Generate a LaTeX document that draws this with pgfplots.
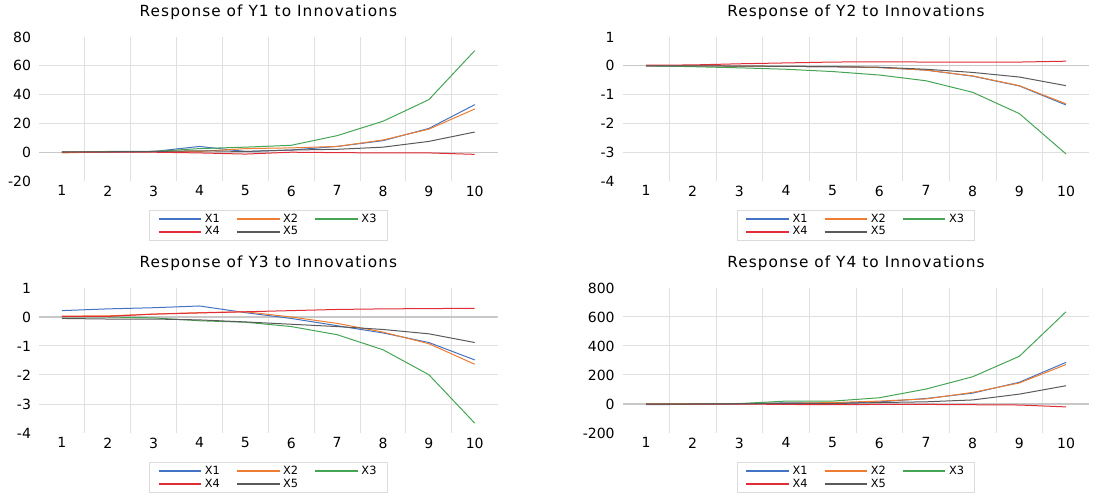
\documentclass[border=0pt]{standalone}
\usepackage{fontspec}
\setmainfont{DejaVu Sans}
\newfontfamily\titlefont[LetterSpace=7]{DejaVu Sans}
\usepackage{pgfplots}
\pgfplotsset{compat=1.18}
\definecolor{cX1}{RGB}{68,114,196}
\definecolor{cX2}{RGB}{237,125,49}
\definecolor{cX3}{RGB}{70,165,85}
\definecolor{cX4}{RGB}{225,45,55}
\definecolor{cX5}{RGB}{90,90,90}
\definecolor{gridc}{RGB}{224,224,224}
\definecolor{zeroc}{RGB}{200,200,200}
\definecolor{legc}{RGB}{220,220,220}
\pgfplotsset{irf/.style={
  scale only axis,
  xmin=0.5, xmax=10.5,
  xtick={1,...,10},
  minor xtick={1.5,2.5,...,9.5},
  xminorgrids, ymajorgrids,
  major tick length=0pt, minor tick length=0pt,
  axis line style={draw=none},
  grid style={gridc, line width=0.75pt},
  minor grid style={gridc, line width=0.75pt},
  extra y tick style={grid=none},
  tick label style={font=\fontsize{10.5}{12}\selectfont},
  yticklabel style={xshift=-2.5pt},
  /pgf/number format/assume math mode=true,
  title style={font=\titlefont\fontsize{11.5}{13}\selectfont, at={(0.5,1)}, anchor=center, yshift=12.5pt},
  legend style={at={(0.5,-0.2)}, anchor=north, draw=legc, line width=0.75pt,
    font=\fontsize{8.5}{10}\selectfont, legend columns=3,
    nodes={inner ysep=0.8pt},
    /tikz/every even column/.append style={column sep=10pt},
    inner xsep=6pt, inner ysep=2pt},
  legend cell align=left,
  legend image code/.code={\draw[#1, line width=1.5pt] (0pt,0pt) -- (32pt,0pt);},
  every axis plot/.append style={line width=0.75pt, mark=none},
}}
\begin{document}
\begin{tikzpicture}
\path (0,0) rectangle (832.5pt,372pt);
% Panel 1
\begin{axis}[irf, at={(29.25pt,236.25pt)}, anchor=south west, width=344pt, height=108pt,
  ymin=-20, ymax=80, ytick={0,20,40,60}, extra y ticks={-20,80},
  title={Response of Y1 to Innovations}]
\draw[zeroc, line width=1pt] (axis cs:0.5,0) -- (axis cs:10.5,0);
\addplot[cX1] coordinates {(1,0)(2,0)(3,0.5)(4,4)(5,0.5)(6,1.5)(7,4)(8,8)(9,16.5)(10,33)};
\addplot[cX2] coordinates {(1,-0.5)(2,0.3)(3,0.5)(4,0.5)(5,2.5)(6,3)(7,4)(8,8.5)(9,16)(10,30)};
\addplot[cX3] coordinates {(1,0)(2,0.5)(3,0.5)(4,2.5)(5,3.5)(6,4.8)(7,11.5)(8,21.5)(9,36.5)(10,70.5)};
\addplot[cX4] coordinates {(1,0)(2,0)(3,0)(4,-0.5)(5,-1.3)(6,0)(7,-0.3)(8,-0.5)(9,-0.5)(10,-1.5)};
\addplot[cX5] coordinates {(1,0.3)(2,0.3)(3,0.5)(4,1)(5,0.5)(6,1.5)(7,2)(8,3.5)(9,7.5)(10,14)};
\legend{X1,X2,X3,X4,X5}
\end{axis}
% Panel 2
\begin{axis}[irf, at={(467pt,236.25pt)}, anchor=south west, width=350pt, height=108pt,
  ymin=-4, ymax=1, ytick={-3,-2,-1,0}, extra y ticks={-4,1},
  title={Response of Y2 to Innovations}]
\draw[zeroc, line width=1pt] (axis cs:0.5,0) -- (axis cs:10.5,0);
\addplot[cX1] coordinates {(1,0)(2,0)(3,-0.01)(4,-0.02)(5,-0.03)(6,-0.06)(7,-0.15)(8,-0.36)(9,-0.7)(10,-1.36)};
\addplot[cX2] coordinates {(1,0)(2,0)(3,-0.01)(4,-0.02)(5,-0.03)(6,-0.06)(7,-0.15)(8,-0.35)(9,-0.69)(10,-1.32)};
\addplot[cX3] coordinates {(1,0)(2,-0.03)(3,-0.07)(4,-0.12)(5,-0.2)(6,-0.32)(7,-0.52)(8,-0.92)(9,-1.66)(10,-3.06)};
\addplot[cX4] coordinates {(1,0.02)(2,0.03)(3,0.07)(4,0.1)(5,0.13)(6,0.14)(7,0.13)(8,0.13)(9,0.13)(10,0.16)};
\addplot[cX5] coordinates {(1,0)(2,0)(3,-0.01)(4,-0.02)(5,-0.03)(6,-0.05)(7,-0.12)(8,-0.23)(9,-0.39)(10,-0.69)};
\legend{X1,X2,X3,X4,X5}
\end{axis}
% Panel 3
\begin{axis}[irf, at={(29.25pt,47.25pt)}, anchor=south west, width=344pt, height=108.75pt,
  ymin=-4, ymax=1, ytick={-3,-2,-1,0}, extra y ticks={-4,1},
  title={Response of Y3 to Innovations}]
\draw[zeroc, line width=1pt] (axis cs:0.5,0) -- (axis cs:10.5,0);
\addplot[cX1] coordinates {(1,0.22)(2,0.28)(3,0.32)(4,0.38)(5,0.15)(6,-0.05)(7,-0.3)(8,-0.55)(9,-0.88)(10,-1.48)};
\addplot[cX2] coordinates {(1,0.03)(2,0.04)(3,0.1)(4,0.15)(5,0.18)(6,0)(7,-0.22)(8,-0.52)(9,-0.92)(10,-1.63)};
\addplot[cX3] coordinates {(1,0)(2,0)(3,-0.03)(4,-0.13)(5,-0.18)(6,-0.33)(7,-0.61)(8,-1.13)(9,-1.99)(10,-3.66)};
\addplot[cX4] coordinates {(1,0.02)(2,0.02)(3,0.1)(4,0.14)(5,0.18)(6,0.22)(7,0.26)(8,0.28)(9,0.29)(10,0.3)};
\addplot[cX5] coordinates {(1,-0.05)(2,-0.07)(3,-0.07)(4,-0.1)(5,-0.17)(6,-0.25)(7,-0.33)(8,-0.43)(9,-0.58)(10,-0.88)};
\legend{X1,X2,X3,X4,X5}
\end{axis}
% Panel 4
\begin{axis}[irf, at={(467pt,47.25pt)}, anchor=south west, width=350pt, height=108.75pt,
  ymin=-200, ymax=800, ytick={0,200,400,600}, extra y ticks={-200,800},
  title={Response of Y4 to Innovations}]
\draw[zeroc, line width=1pt] (axis cs:0.5,0) -- (axis cs:10.5,0);
\addplot[cX1] coordinates {(1,-5)(2,-2)(3,0)(4,8)(5,5)(6,15)(7,38)(8,75)(9,150)(10,287)};
\addplot[cX2] coordinates {(1,0)(2,2)(3,3)(4,5)(5,10)(6,20)(7,35)(8,80)(9,145)(10,272)};
\addplot[cX3] coordinates {(1,0)(2,1)(3,3)(4,20)(5,20)(6,43)(7,103)(8,188)(9,329)(10,636)};
\addplot[cX4] coordinates {(1,0)(2,0)(3,0)(4,-3)(5,-5)(6,-3)(7,-3)(8,-5)(9,-7)(10,-20)};
\addplot[cX5] coordinates {(1,0)(2,0)(3,2)(4,5)(5,3)(6,10)(7,15)(8,28)(9,68)(10,126)};
\legend{X1,X2,X3,X4,X5}
\end{axis}
\end{tikzpicture}
\end{document}
